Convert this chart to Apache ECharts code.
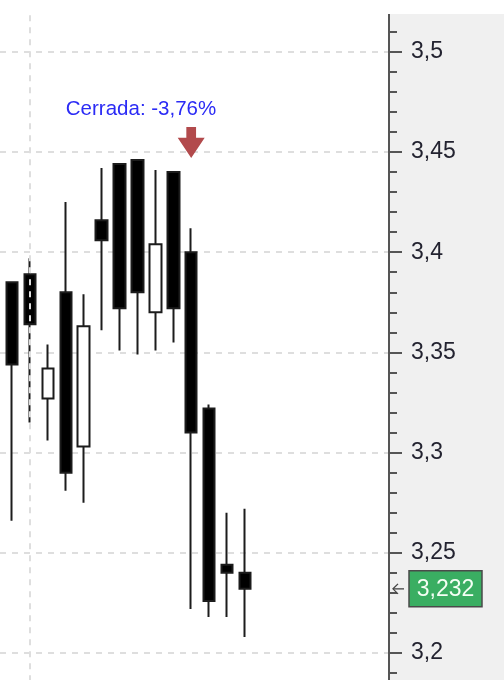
<!DOCTYPE html>
<html>
<head>
<meta charset="utf-8">
<style>
  html, body { margin: 0; padding: 0; background: #ffffff; }
  #chart { width: 504px; height: 680px; }
</style>
<script src="https://cdn.jsdelivr.net/npm/echarts@6/dist/echarts.min.js"></script>
</head>
<body>
<div id="chart"></div>
<script>
// ---- data ----
const candleIndex = [0, 1, 2, 3, 4, 5, 6, 7, 8, 9, 10, 11, 12, 13];
const openVals  = [3.385, 3.389, 3.327, 3.380, 3.303, 3.416, 3.444, 3.446, 3.370, 3.440, 3.400, 3.322, 3.244, 3.240];
const closeVals = [3.344, 3.364, 3.342, 3.290, 3.363, 3.406, 3.372, 3.380, 3.404, 3.372, 3.310, 3.226, 3.240, 3.232];
const lowVals   = [3.266, 3.315, 3.306, 3.281, 3.275, 3.361, 3.351, 3.349, 3.351, 3.355, 3.222, 3.218, 3.218, 3.208];
const highVals  = [3.385, 3.397, 3.354, 3.425, 3.379, 3.442, 3.444, 3.446, 3.441, 3.440, 3.412, 3.324, 3.270, 3.272];
const lastPrice = 3.232;
const closedIndex = 10;          // candle marked by the arrow
const closedNote = 'Cerrada: -3,76%';
const gridLineIndex = 1;         // vertical grid line position (candle index)

const candleData = candleIndex.map((i, k) => [i, openVals[k], closeVals[k], lowVals[k], highVals[k]]);
const fmt = v => String(parseFloat(Number(v).toFixed(3))).replace('.', ',');

const chart = echarts.init(document.getElementById('chart'), null, { renderer: 'canvas' });
const FONT = 'Liberation Sans, Arial, sans-serif';
const X_MIN = -0.6696, X_MAX = 21.038;

chart.setOption({
  animation: false,
  backgroundColor: '#ffffff',
  grid: { left: 0, right: 115, top: -48.4, bottom: -73.2, outerBoundsMode: 'none', containLabel: false },
  xAxis: {
    type: 'value',
    min: X_MIN,
    max: X_MAX,
    show: false,
    splitLine: { show: false }
  },
  yAxis: {
    type: 'value',
    position: 'right',
    min: 3.15,
    max: 3.55,
    interval: 0.05,
    axisLine: { show: true, onZero: false, lineStyle: { color: '#555555', width: 2 } },
    axisTick: { show: true, length: 13, lineStyle: { color: '#555555', width: 2 } },
    minorTick: { show: true, splitNumber: 5, length: 8, lineStyle: { color: '#555555', width: 2 } },
    axisLabel: {
      show: true, margin: 22, color: '#232330', fontSize: 23, fontFamily: FONT,
      formatter: fmt, showMinLabel: false, showMaxLabel: false
    },
    splitLine: { show: true, lineStyle: { color: '#dedede', width: 2, type: [6, 6] } },
    minorSplitLine: { show: false }
  },
  graphic: [
    { id: 'panel', type: 'rect', shape: { x: 389, y: 14, width: 115, height: 666 }, style: { fill: '#f0f0f0' }, z: -10, silent: true },
    { id: 'topcover', type: 'rect', shape: { x: 0, y: 0, width: 504, height: 14 }, style: { fill: '#ffffff' }, z: 100, silent: true }
  ],
  series: [{
    type: 'candlestick',
    data: candleData,
    encode: { x: 0, y: [1, 2, 3, 4] },
    barWidth: 12,
    itemStyle: {
      color: '#ffffff', color0: '#000000',
      borderColor: '#1c1c1c', borderColor0: '#1c1c1c', borderWidth: 2
    },
    markLine: {
      silent: true,
      symbol: ['none', 'none'],
      animation: false,
      data: [
        {
          xAxis: gridLineIndex,
          lineStyle: { color: '#dedede', width: 2, type: [6, 6] },
          label: { show: false }
        }
      ]
    },
    markPoint: {
      silent: true,
      animation: false,
      data: [
        {
          coord: [closedIndex, 3.447],
          symbol: 'path://M3.2,0 L6.8,0 L6.8,3.5 L10,3.5 L5,10 L0,3.5 L3.2,3.5 Z',
          symbolSize: [27, 31],
          symbolOffset: [0, '-50%'],
          itemStyle: { color: '#b24a4c' },
          label: { show: false }
        },
        {
          coord: [7.2, 3.4715],
          symbol: 'rect',
          symbolSize: 1,
          itemStyle: { color: 'rgba(0,0,0,0)' },
          label: {
            show: true, position: 'inside', formatter: closedNote,
            color: '#2b2bf5', fontSize: 20.5, fontFamily: FONT
          }
        }
      ]
    }
  }]
});

// last-price tag, placed through the library's own scales
const py = chart.convertToPixel({ yAxisIndex: 0 }, lastPrice);
const ax = chart.convertToPixel({ xAxisIndex: 0 }, X_MAX);
chart.setOption({
  graphic: [
    {
      id: 'priceArrow', type: 'polyline', silent: true, z: 50,
      shape: { points: [[ax + 15, py], [ax + 4, py]] },
      style: { stroke: '#444444', lineWidth: 1.3, fill: null }
    },
    {
      id: 'priceArrowHead', type: 'polyline', silent: true, z: 50,
      shape: { points: [[ax + 9, py - 5], [ax + 4, py], [ax + 9, py + 5]] },
      style: { stroke: '#444444', lineWidth: 1.3, fill: null }
    },
    {
      id: 'priceBox', type: 'rect', silent: true, z: 50,
      shape: { x: ax + 20, y: py - 18, width: 73, height: 36 },
      style: { fill: '#3aae62', stroke: '#4a4a4a', lineWidth: 1.5 }
    },
    {
      id: 'priceText', type: 'text', silent: true, z: 51,
      x: ax + 20 + 36.5, y: py + 1,
      style: {
        text: fmt(lastPrice), fill: '#f4fff4', fontSize: 23, fontFamily: FONT,
        align: 'center', verticalAlign: 'middle'
      }
    }
  ]
});
</script>
</body>
</html>
